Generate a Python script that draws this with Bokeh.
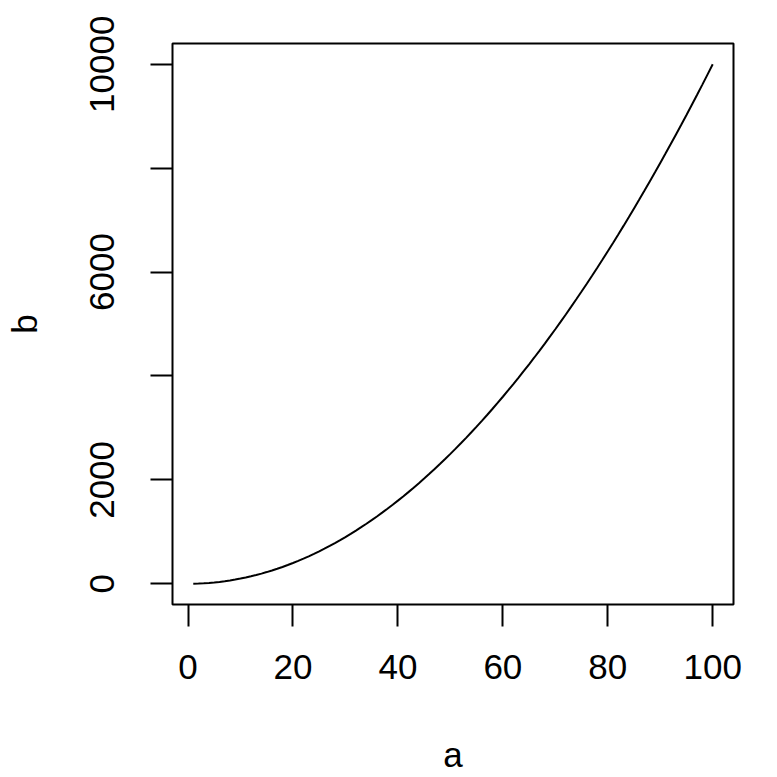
from bokeh.plotting import figure
from bokeh.models import Range1d, FixedTicker
from bokeh.embed import file_html
from bokeh.resources import INLINE

# data
a = [1, 2, 3, 4, 5, 6, 7, 8, 9, 10, 11, 12, 13, 14, 15, 16, 17, 18, 19, 20,
     21, 22, 23, 24, 25, 26, 27, 28, 29, 30, 31, 32, 33, 34, 35, 36, 37, 38, 39, 40,
     41, 42, 43, 44, 45, 46, 47, 48, 49, 50, 51, 52, 53, 54, 55, 56, 57, 58, 59, 60,
     61, 62, 63, 64, 65, 66, 67, 68, 69, 70, 71, 72, 73, 74, 75, 76, 77, 78, 79, 80,
     81, 82, 83, 84, 85, 86, 87, 88, 89, 90, 91, 92, 93, 94, 95, 96, 97, 98, 99, 100]
b = [1, 4, 9, 16, 25, 36, 49, 64, 81, 100, 121, 144, 169, 196, 225, 256, 289, 324, 361, 400,
     441, 484, 529, 576, 625, 676, 729, 784, 841, 900, 961, 1024, 1089, 1156, 1225, 1296, 1369, 1444, 1521, 1600,
     1681, 1764, 1849, 1936, 2025, 2116, 2209, 2304, 2401, 2500, 2601, 2704, 2809, 2916, 3025, 3136, 3249, 3364, 3481, 3600,
     3721, 3844, 3969, 4096, 4225, 4356, 4489, 4624, 4761, 4900, 5041, 5184, 5329, 5476, 5625, 5776, 5929, 6084, 6241, 6400,
     6561, 6724, 6889, 7056, 7225, 7396, 7569, 7744, 7921, 8100, 8281, 8464, 8649, 8836, 9025, 9216, 9409, 9604, 9801, 10000]

x_ticks = [0, 20, 40, 60, 80, 100]
y_ticks = [0, 2000, 4000, 6000, 8000, 10000]
y_tick_labels = ["0", "2000", "", "6000", "", "10000"]
x_label = "a"
y_label = "b"

# R-style 4% axis extension
xpad = 0.04 * (max(a) - min(a))
ypad = 0.04 * (max(b) - min(b))

FONT = "Liberation Sans"
FS = "35px"

p = figure(
    output_backend="svg", toolbar_location=None,
    frame_width=561, frame_height=561,
    min_border_left=172, min_border_top=43, min_border_right=30, min_border_bottom=100,
    x_range=Range1d(min(a) - xpad, max(a) + xpad),
    y_range=Range1d(min(b) - ypad, max(b) + ypad),
    background_fill_color="white", border_fill_color="white",
)
p.outline_line_color = "black"
p.outline_line_width = 2
p.grid.visible = False

p.line(a, b, line_color="black", line_width=2)

for ax in (p.xaxis[0], p.yaxis[0]):
    ax.axis_line_color = None
    ax.major_tick_in = 0
    ax.major_tick_out = 22
    ax.major_tick_line_width = 2
    ax.major_tick_line_color = "black"
    ax.minor_tick_line_color = None
    ax.major_label_text_font = FONT
    ax.major_label_text_font_size = FS
    ax.major_label_text_color = "black"
    ax.axis_label_text_font = FONT
    ax.axis_label_text_font_size = FS
    ax.axis_label_text_font_style = "normal"
    ax.axis_label_text_color = "black"

p.xaxis[0].ticker = FixedTicker(ticks=x_ticks)
p.xaxis[0].axis_label = x_label
p.xaxis[0].major_label_standoff = 28
p.xaxis[0].axis_label_standoff = 53

p.yaxis[0].ticker = FixedTicker(ticks=y_ticks)
p.yaxis[0].major_label_overrides = {t: l for t, l in zip(y_ticks, y_tick_labels)}
p.yaxis[0].major_label_orientation = "vertical"
p.yaxis[0].axis_label = y_label
p.yaxis[0].major_label_standoff = 36
p.yaxis[0].axis_label_standoff = 44

open("out.html", "w").write(file_html(p, INLINE))
